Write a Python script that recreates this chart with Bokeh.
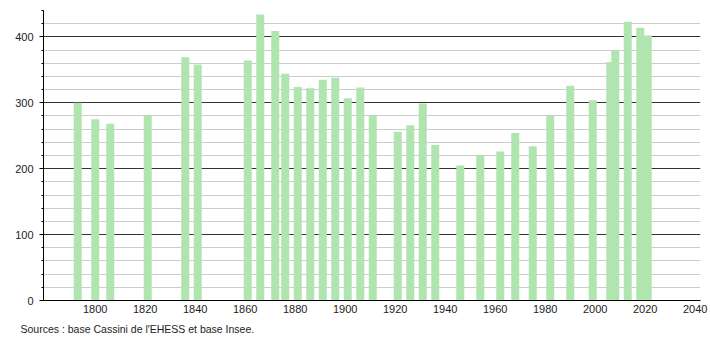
from bokeh.plotting import figure
from bokeh.models import Range1d, FixedTicker, Title
from bokeh.embed import file_html
from bokeh.resources import INLINE

years = [1793, 1800, 1806, 1821, 1836, 1841, 1861, 1866, 1872, 1876, 1881, 1886,
         1891, 1896, 1901, 1906, 1911, 1921, 1926, 1931, 1936, 1946, 1954, 1962,
         1968, 1975, 1982, 1990, 1999, 2006, 2008, 2013, 2018, 2021]
population = [300, 275, 268, 281, 369, 358, 364, 434, 409, 344, 324, 322,
              335, 338, 307, 323, 280, 256, 266, 299, 236, 205, 220, 226,
              254, 234, 280, 326, 304, 362, 379, 423, 414, 402]
x_ticks = [1800, 1820, 1840, 1860, 1880, 1900, 1920, 1940, 1960, 1980, 2000, 2020, 2040]
y_major = [0, 100, 200, 300, 400]
y_minor = [20, 40, 60, 80, 120, 140, 160, 180, 220, 240, 260, 280, 320, 340, 360, 380, 420, 440]
source_text = "Sources : base Cassini de l'EHESS et base Insee."

FONT = "Liberation Sans"

p = figure(width=710, height=340, output_backend="svg", toolbar_location=None,
           x_range=Range1d(1779.3, 2042.1), y_range=Range1d(0, 440),
           min_border_left=43, min_border_right=10, min_border_top=10,
           min_border_bottom=40)
p.outline_line_color = None
p.background_fill_color = "white"

# grids
p.xgrid.visible = False
p.ygrid.ticker = FixedTicker(ticks=y_major[1:], minor_ticks=y_minor)
p.ygrid.grid_line_color = "#333333"
p.ygrid.grid_line_width = 1
p.ygrid.minor_grid_line_color = "#cccccc"
p.ygrid.minor_grid_line_width = 1

p.vbar(x=years, top=population, width=3.2, fill_color="#b0e5b0", line_color=None)

# axes
p.yaxis.ticker = FixedTicker(ticks=y_major, minor_ticks=y_minor + [0])
p.yaxis.major_tick_out = 4
p.yaxis.major_tick_in = 0
p.yaxis.minor_tick_out = 2
p.yaxis.minor_tick_in = 0
p.yaxis.axis_line_color = "black"
p.yaxis.major_tick_line_color = "black"
p.yaxis.minor_tick_line_color = "black"
p.yaxis.major_label_text_font = FONT
p.yaxis.major_label_text_font_size = "11px"
p.yaxis.major_label_text_color = "#222222"
p.yaxis.major_label_standoff = 6

p.xaxis.ticker = FixedTicker(ticks=x_ticks)
p.xaxis.major_tick_out = 0
p.xaxis.major_tick_in = 0
p.xaxis.minor_tick_out = 0
p.xaxis.minor_tick_in = 0
p.xaxis.axis_line_color = "black"
p.xaxis.major_label_text_font = FONT
p.xaxis.major_label_text_font_size = "11px"
p.xaxis.major_label_text_color = "#222222"
p.xaxis.major_label_standoff = 4

src = Title(text=source_text, align="left", offset=-23, standoff=11,
            text_font=FONT, text_font_size="10.5px", text_font_style="normal",
            text_color="#222222")
p.add_layout(src, "below")

open("out.html", "w").write(file_html(p, INLINE))
